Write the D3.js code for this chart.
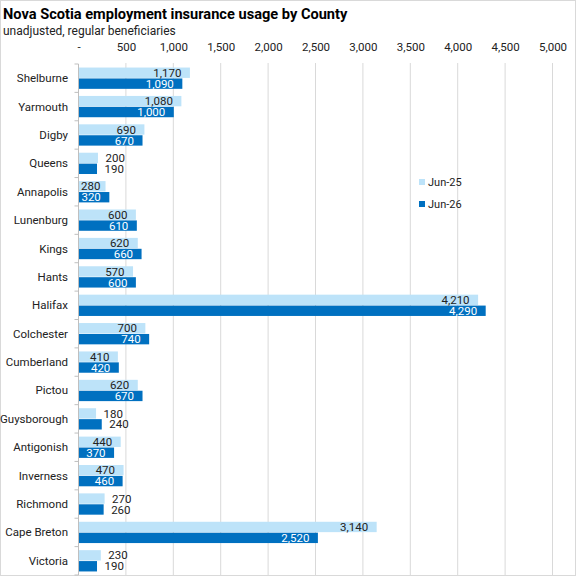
<!DOCTYPE html>
<html><head><meta charset="utf-8">
<script src="https://cdn.jsdelivr.net/npm/d3@7"></script>
<style>
body{margin:0;background:#fff;}
svg text{font-family:"Liberation Sans Narrow","Arial Narrow",Roboto,sans-serif;}
</style></head>
<body><svg id="c" width="576" height="577"></svg>
<script>
const counties = ["Shelburne","Yarmouth","Digby","Queens","Annapolis","Lunenburg","Kings","Hants","Halifax","Colchester","Cumberland","Pictou","Guysborough","Antigonish","Inverness","Richmond","Cape Breton","Victoria"];
const jun25 = [1170,1080,690,200,280,600,620,570,4210,700,410,620,180,440,470,270,3140,230];
const jun26 = [1090,1000,670,190,320,610,660,600,4290,740,420,670,240,370,460,260,2520,190];
const seriesNames = ["Jun-25","Jun-26"];
const tickValues = [0,500,1000,1500,2000,2500,3000,3500,4000,4500,5000];

(function(){
const colors = ["#bde3f9","#0070c0"];
const svg = d3.select("#c");
const pL=78.5, pR=552.5, pT=64, pB=575;

svg.append("rect").attr("x",0.5).attr("y",0.5).attr("width",575).attr("height",575)
  .attr("fill","#fff").attr("stroke","#d9d9d9");

svg.append("text").attr("x",3).attr("y",19).attr("font-size",14.6).attr("font-weight","bold")
  .attr("fill","#000").text("Nova Scotia employment insurance usage by County");
svg.append("text").attr("x",3).attr("y",35).attr("font-size",12).attr("fill","#222")
  .text("unadjusted, regular beneficiaries");

const x = d3.scaleLinear().domain([0,5000]).range([pL,pR]);
const y = d3.scaleBand().domain(counties).range([pT,pB]).paddingInner(0.25).paddingOuter(0.125);
const ys = d3.scaleBand().domain(seriesNames).range([0,y.bandwidth()]).paddingInner(0.05);
const fmt = d3.format(",");

svg.append("g").selectAll("line").data(tickValues.slice(1)).join("line")
  .attr("x1",d=>x(d)).attr("x2",d=>x(d)).attr("y1",pT-1).attr("y2",pB)
  .attr("stroke","#d9d9d9").attr("stroke-width",1);

const xAxis = d3.axisTop(x).tickValues(tickValues).tickSize(0).tickPadding(0)
  .tickFormat(d=>d===0?"-":fmt(d));
const gx = svg.append("g").attr("transform",`translate(0,51)`).call(xAxis);
gx.select(".domain").remove();
gx.selectAll("text").attr("font-size",11.5).attr("fill","#222");
gx.attr("font-family",null);

const step = y.step();
const gy = svg.append("g");
gy.append("line").attr("x1",pL).attr("x2",pL).attr("y1",pT).attr("y2",pB).attr("stroke","#bfbfbf");
const bounds = d3.range(counties.length+1).map(i=>pT+i*step);
gy.selectAll("line.tk").data(bounds).join("line").attr("class","tk")
  .attr("x1",pL-4).attr("x2",pL).attr("y1",d=>d).attr("y2",d=>d).attr("stroke","#bfbfbf");
gy.selectAll("text").data(counties).join("text")
  .attr("x",68).attr("y",d=>y(d)+y.bandwidth()/2).attr("dy","0.35em")
  .attr("text-anchor","end").attr("font-size",11.5).attr("fill","#222").text(d=>d);

const data = [];
counties.forEach((c,i)=>[jun25[i],jun26[i]].forEach((v,k)=>data.push({c,s:seriesNames[k],k,v})));
const g = svg.append("g");
g.selectAll("rect").data(data).join("rect")
  .attr("x",pL+0.5).attr("y",d=>y(d.c)+ys(d.s))
  .attr("width",d=>x(d.v)-x(0)).attr("height",ys.bandwidth())
  .attr("fill",d=>colors[d.k]);

const inside = d=>(x(d.v)-x(0))>=26;
g.selectAll("text").data(data).join("text")
  .attr("x",d=>inside(d) ? Math.max(x(d.v)-8, pL+22) : x(d.v)+8)
  .attr("y",d=>y(d.c)+ys(d.s)+ys.bandwidth()/2).attr("dy","0.36em")
  .attr("text-anchor",d=>inside(d)?"end":"start")
  .attr("font-size",11.5)
  .attr("fill",d=>(d.k===1 && inside(d))?"#fff":"#222")
  .text(d=>fmt(d.v));

const lg = svg.append("g");
seriesNames.forEach((s,i)=>{
  const yy = 182 + i*22;
  lg.append("rect").attr("x",419).attr("y",yy-3).attr("width",6).attr("height",6).attr("fill",colors[i]);
  lg.append("text").attr("x",428).attr("y",yy).attr("dy","0.35em").attr("font-size",11)
    .attr("fill","#222").text(s);
});
})();
</script></body></html>
